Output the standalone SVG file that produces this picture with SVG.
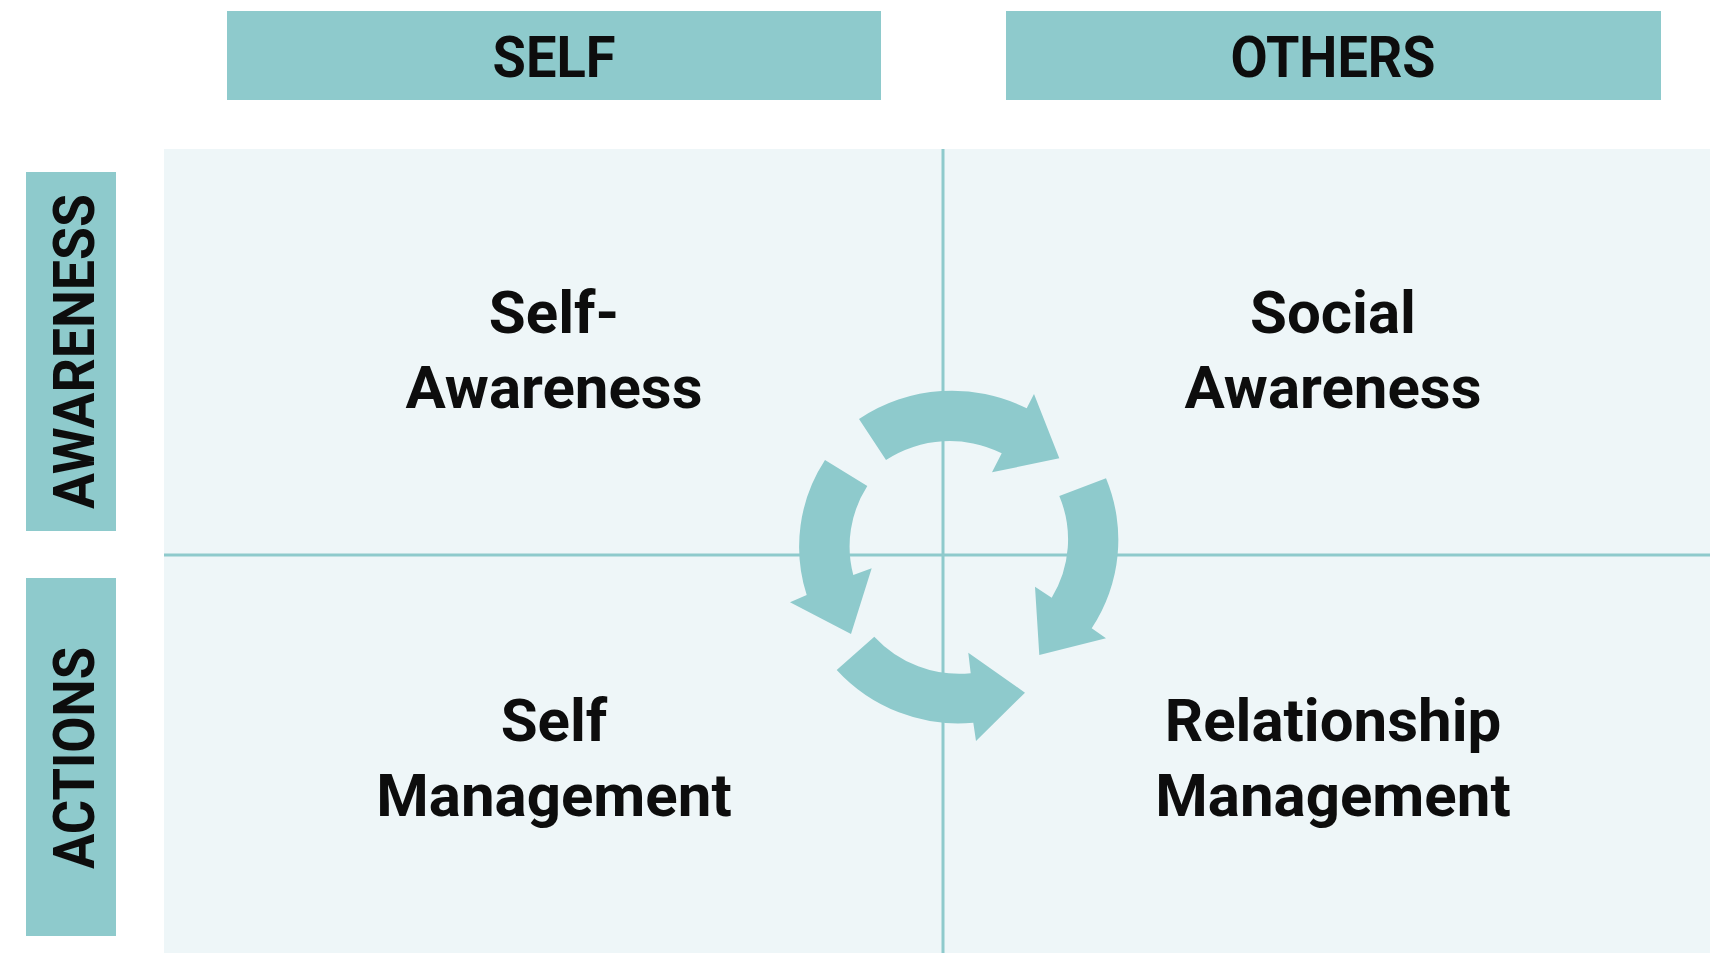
<svg xmlns="http://www.w3.org/2000/svg" width="1710" height="953" viewBox="0 0 1710 953">
  <style>
    .band { fill: #8ECACC; }
    .head { font-family: Roboto, "Liberation Sans", sans-serif; font-weight: 700; font-size: 58px; fill: #0d0d0d; text-anchor: middle; }
    .quad { font-family: Roboto, "Liberation Sans", sans-serif; font-weight: 700; font-size: 60px; fill: #0d0d0d; text-anchor: middle; }
    .grid { stroke: #8ECACC; stroke-width: 3; fill: none; }
    .flow { fill: #8ECACC; }
  </style>

  <rect x="0" y="0" width="1710" height="953" fill="#ffffff"/>

  <!-- quadrant field -->
  <g id="field">
    <rect x="164" y="149" width="1546" height="804" fill="#EEF6F8"/>
    <line class="grid" x1="943" y1="149" x2="943" y2="953"/>
    <line class="grid" x1="164" y1="555" x2="1710" y2="555"/>
  </g>

  <!-- column headers -->
  <g id="header-self">
    <rect class="band" x="227" y="11" width="654" height="89"/>
    <text class="head" x="554" y="77" textLength="123" lengthAdjust="spacingAndGlyphs">SELF</text>
  </g>
  <g id="header-others">
    <rect class="band" x="1006" y="11" width="655" height="89"/>
    <text class="head" x="1333" y="77" textLength="205" lengthAdjust="spacingAndGlyphs">OTHERS</text>
  </g>

  <!-- row headers -->
  <g id="row-awareness">
    <rect class="band" x="26" y="172" width="90" height="359"/>
    <text class="head" transform="translate(94,351.5) rotate(-90)" x="0" y="0" textLength="315" lengthAdjust="spacingAndGlyphs">AWARENESS</text>
  </g>
  <g id="row-actions">
    <rect class="band" x="26" y="578" width="90" height="358"/>
    <text class="head" transform="translate(94,758) rotate(-90)" x="0" y="0" textLength="222" lengthAdjust="spacingAndGlyphs">ACTIONS</text>
  </g>

  <!-- quadrants -->
  <g id="self-awareness">
    <text class="quad" x="554" y="333">Self-</text>
    <text class="quad" x="554" y="408">Awareness</text>
  </g>
  <g id="social-awareness">
    <text class="quad" x="1333" y="333">Social</text>
    <text class="quad" x="1333" y="408">Awareness</text>
  </g>
  <g id="self-management">
    <text class="quad" x="554" y="741">Self</text>
    <text class="quad" x="554" y="816">Management</text>
  </g>
  <g id="relationship-management">
    <text class="quad" x="1333" y="741">Relationship</text>
    <text class="quad" x="1333" y="816">Management</text>
  </g>

  <!-- curved flow arrows around the centre -->
  <g id="connectors">
    <!-- top: self-awareness to social awareness -->
    <path class="flow" d="M859,419 A167,167 0 0 1 1026.7,408.3 L1034,394 L1059.3,458.3 L992,472.3 L1001.7,453.3 A117,117 0 0 0 886,460 Z"/>
    <!-- right: social awareness to relationship management -->
    <path class="flow" d="M1106,478.3 A160,160 0 0 1 1091.7,628.3 L1106,638.3 L1039.3,655 L1035,586.7 L1051.7,597.7 A112,112 0 0 0 1059.3,496 Z"/>
    <!-- left: self-awareness to self management -->
    <path class="flow" d="M825,460 A158,158 0 0 0 806.7,595 L790,602.3 L851,634 L871.7,568.3 L853.3,575 A112,112 0 0 1 867.3,486 Z"/>
    <!-- bottom: self management to relationship management -->
    <path class="flow" d="M836.7,670 A165,165 0 0 0 973.3,722.7 L976,741 L1025,692.7 L968.3,652.7 L970.7,673.3 A116,116 0 0 1 874.3,636.7 Z"/>
  </g>
</svg>
